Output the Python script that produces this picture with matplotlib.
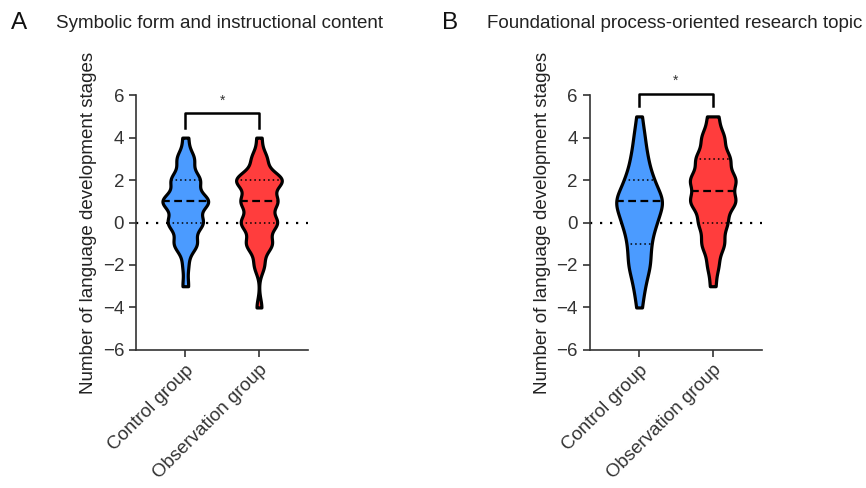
import numpy as np
import matplotlib
matplotlib.use("Agg")
import matplotlib.pyplot as plt

plt.rcParams['font.family'] = ['Liberation Sans', 'DejaVu Sans']

# data: score value -> number of children
groups = ["Control group", "Observation group"]

a_values = [-4, -3, -2, -1, 0, 1, 2, 3, 4]
a_control_counts = [0, 1, 1, 4, 6, 8, 5, 3, 1]
a_observation_counts = [1, 0, 2, 5, 7, 7, 9, 3, 1]

b_values = [-4, -3, -2, -1, 0, 1, 2, 3, 4, 5]
b_control_counts = [1, 2, 4, 4, 6, 9, 5, 3, 2, 1]
b_observation_counts = [0, 1, 2, 4, 5, 8, 8, 6, 4, 2]

titles = ["Symbolic form and instructional content",
          "Foundational process-oriented research topic"]
letters = ["A", "B"]
sig_marks = ["*", "*"]

blue = "#4b9bff"
red = "#ff3d3d"


def kde_violin(ax, data, pos, color, bw):
    y = np.linspace(data.min(), data.max(), 400)
    dens = np.exp(-0.5 * ((y[:, None] - data[None, :]) / bw) ** 2).sum(axis=1)
    w = dens / dens.max() * 0.31
    ax.fill_betweenx(y, pos - w, pos + w, facecolor=color, edgecolor="black",
                     linewidth=2.3, zorder=3)
    q1, med, q3 = np.percentile(data, [25, 50, 75])
    for q, ls, lw in [(med, (0, (3.5, 2)), 1.6), (q1, (0, (1, 2)), 1.1), (q3, (0, (1, 2)), 1.1)]:
        wq = np.interp(q, y, w)
        ax.plot([pos - wq, pos + wq], [q, q], color="black", linestyle=ls,
                linewidth=lw, zorder=4)


fig = plt.figure(figsize=(8.66, 4.88), dpi=100)

panels = [
    (a_values, a_control_counts, a_observation_counts, [0.4, 0.4], 0.157, 5.15, 4.45, 5.75),
    (b_values, b_control_counts, b_observation_counts, [0.6, 0.45], 0.681, 6.05, 5.5, 6.7),
]

fs = 13.5
for i, (vals, cc, oc, bws, left, br_top, br_leg, star_y) in enumerate(panels):
    ax = fig.add_axes([left, 0.283, 0.199, 0.522])
    ctrl = np.repeat(vals, cc).astype(float)
    obs = np.repeat(vals, oc).astype(float)
    ax.axhline(0, color="black", linestyle=(0, (1, 3.5)), linewidth=1.6, zorder=1)
    kde_violin(ax, ctrl, 0, blue, bws[0])
    kde_violin(ax, obs, 1, red, bws[1])

    ax.plot([0, 0, 1, 1], [br_leg, br_top, br_top, br_leg], color="black",
            linewidth=1.8, clip_on=False, zorder=5)
    ax.text(0.5, star_y, sig_marks[i], ha="center", va="center", fontsize=10,
            color="#333333")

    ax.set_xlim(-0.67, 1.67)
    ax.set_ylim(-6, 6)
    ax.set_yticks(np.arange(-6, 7, 2))
    ax.set_xticks([0, 1])
    ax.set_xticklabels(groups, rotation=45, ha="right", rotation_mode="anchor",
                       fontsize=fs, color="#222222")
    ax.tick_params(axis="y", labelsize=fs, labelcolor="#222222")
    ax.tick_params(colors="#333333", width=1.2, length=5)
    ax.set_ylabel("Number of language development stages", fontsize=fs,
                  color="#222222", labelpad=4)
    for s in ["top", "right"]:
        ax.spines[s].set_visible(False)
    for s in ["left", "bottom"]:
        ax.spines[s].set_color("#333333")
        ax.spines[s].set_linewidth(1.2)

    fx = 11 / 866 if i == 0 else 442 / 866
    fig.text(fx, 1 - 23 / 488, letters[i], fontsize=17.5, va="center", color="#111111")
    fig.text(fx + 45 / 866, 1 - 23 / 488, titles[i], fontsize=13.5, va="center",
             color="#222222")

fig.savefig("out.png", dpi=100)
